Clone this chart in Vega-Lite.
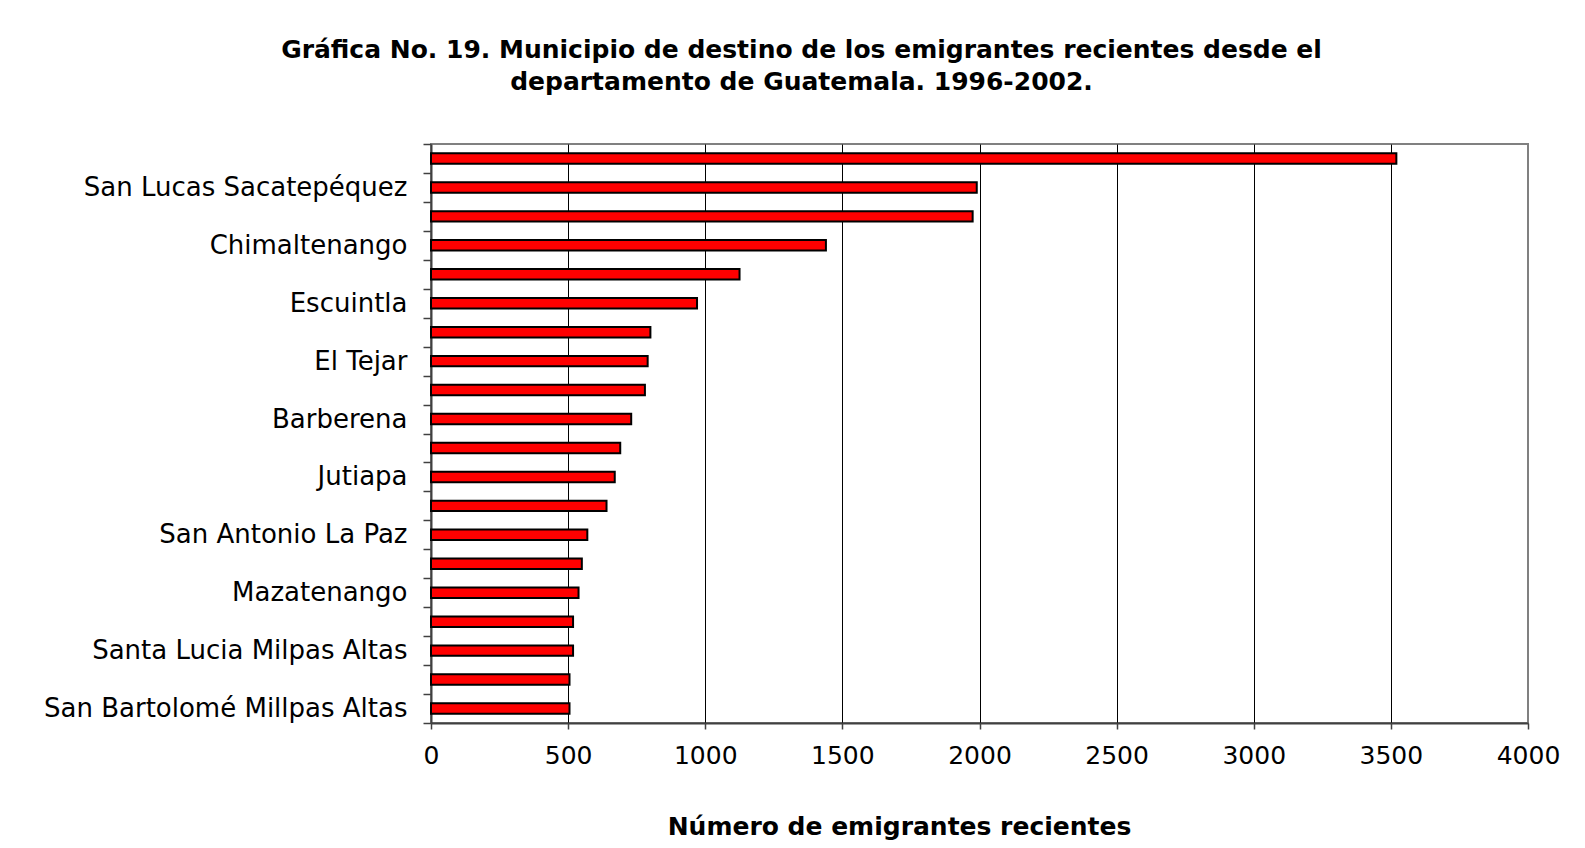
{
  "$schema": "https://vega.github.io/schema/vega-lite/v6.json",
  "width": 1097,
  "height": 579,
  "autosize": {"type": "none"},
  "padding": {"left": 431, "top": 144, "right": 57, "bottom": 125},
  "background": "white",
  "title": {
    "text": ["Gráfica No. 19.  Municipio de destino de los emigrantes recientes desde el", "departamento de Guatemala.  1996-2002."],
    "font": "DejaVu Sans",
    "fontSize": 25,
    "fontWeight": "bold",
    "color": "black",
    "anchor": "middle",
    "dx": -178,
    "offset": 36,
    "lineHeight": 32
  },
  "data": {
    "values": [
      {"orden": 1, "municipio": "(no rotulado 1)", "emigrantes": 3520},
      {"orden": 2, "municipio": "San Lucas Sacatepéquez", "emigrantes": 1990},
      {"orden": 3, "municipio": "(no rotulado 2)", "emigrantes": 1975},
      {"orden": 4, "municipio": "Chimaltenango", "emigrantes": 1440},
      {"orden": 5, "municipio": "(no rotulado 3)", "emigrantes": 1125},
      {"orden": 6, "municipio": "Escuintla", "emigrantes": 970},
      {"orden": 7, "municipio": "(no rotulado 4)", "emigrantes": 800},
      {"orden": 8, "municipio": "El Tejar", "emigrantes": 790},
      {"orden": 9, "municipio": "(no rotulado 5)", "emigrantes": 780},
      {"orden": 10, "municipio": "Barberena", "emigrantes": 730},
      {"orden": 11, "municipio": "(no rotulado 6)", "emigrantes": 690},
      {"orden": 12, "municipio": "Jutiapa", "emigrantes": 670},
      {"orden": 13, "municipio": "(no rotulado 7)", "emigrantes": 640},
      {"orden": 14, "municipio": "San Antonio La Paz", "emigrantes": 570},
      {"orden": 15, "municipio": "(no rotulado 8)", "emigrantes": 550},
      {"orden": 16, "municipio": "Mazatenango", "emigrantes": 538},
      {"orden": 17, "municipio": "(no rotulado 9)", "emigrantes": 518},
      {"orden": 18, "municipio": "Santa Lucia Milpas Altas", "emigrantes": 518},
      {"orden": 19, "municipio": "(no rotulado 10)", "emigrantes": 505},
      {"orden": 20, "municipio": "San Bartolomé Millpas Altas", "emigrantes": 505}
    ]
  },
  "mark": {"type": "bar", "fill": "#FF0000", "stroke": "black", "strokeWidth": 2, "height": {"band": 0.36}},
  "encoding": {
    "y": {
      "field": "municipio",
      "type": "nominal",
      "sort": {"field": "orden", "op": "min", "order": "ascending"},
      "scale": {"paddingInner": 0, "paddingOuter": 0},
      "axis": {
        "title": null,
        "tickBand": "extent",
        "ticks": true,
        "tickSize": 8,
        "tickColor": "#404040",
        "tickWidth": 1.5,
        "domain": true,
        "domainColor": "#404040",
        "domainWidth": 2,
        "grid": false,
        "labelFont": "DejaVu Sans",
        "labelFontSize": 26,
        "labelColor": "black",
        "labelPadding": 16,
        "labelLimit": 420,
        "labelOverlap": false,
        "labelExpr": "indexof(datum.label, '(no rotulado') == 0 ? '' : datum.label"
      }
    },
    "x": {
      "field": "emigrantes",
      "type": "quantitative",
      "scale": {"domain": [0, 4000], "nice": false},
      "axis": {
        "values": [0, 500, 1000, 1500, 2000, 2500, 3000, 3500, 4000],
        "format": "d",
        "grid": true,
        "gridColor": {"condition": {"test": "datum.value == 0 || datum.value == 4000", "value": "transparent"}, "value": "black"},
        "gridWidth": 1,
        "tickSize": 6,
        "tickColor": "#404040",
        "tickWidth": 1.5,
        "domainColor": "#404040",
        "domainWidth": 2,
        "labelFont": "DejaVu Sans",
        "labelFontSize": 25,
        "labelColor": "black",
        "labelPadding": 14,
        "labelFlush": false,
        "labelOverlap": false,
        "title": "Número de emigrantes recientes",
        "titleFont": "DejaVu Sans",
        "titleFontSize": 25,
        "titleFontWeight": "bold",
        "titleColor": "black",
        "titleX": 468,
        "titleY": 103,
        "titleAlign": "center",
        "titleBaseline": "middle"
      }
    }
  },
  "config": {"view": {"stroke": "#808080", "strokeWidth": 2}}
}
